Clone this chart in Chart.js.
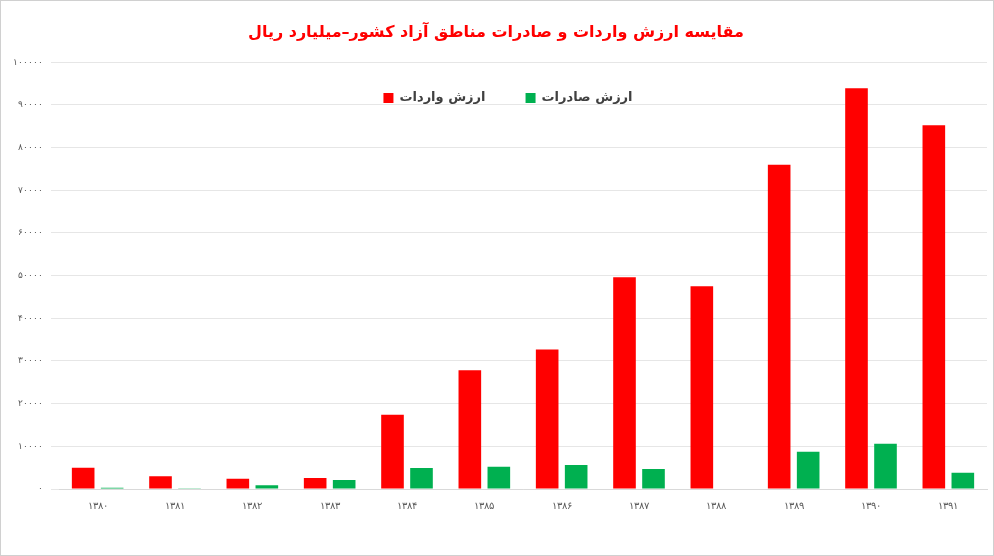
<!DOCTYPE html>
<html><head><meta charset="utf-8">
<script src="https://cdn.jsdelivr.net/npm/chart.js@4"></script>
<style>html,body{margin:0;padding:0;background:#fff}#w{position:absolute;left:0;top:0;width:992px;height:554px;border:1px solid #d0d0d0}</style>
</head><body><div id="w"><canvas id="c"></canvas></div>
<script>
const categories=['۱۳۸۰','۱۳۸۱','۱۳۸۲','۱۳۸۳','۱۳۸۴','۱۳۸۵','۱۳۸۶','۱۳۸۷','۱۳۸۸','۱۳۸۹','۱۳۹۰','۱۳۹۱'];
const imports=[5000,3000,2400,2600,17400,27800,32700,49600,47500,76000,93900,85200];
const exports=[300,200,900,2100,4900,5200,5600,4700,0,8700,10600,3800];
const yTickLabels=['۰','۱۰۰۰۰','۲۰۰۰۰','۳۰۰۰۰','۴۰۰۰۰','۵۰۰۰۰','۶۰۰۰۰','۷۰۰۰۰','۸۰۰۰۰','۹۰۰۰۰','۱۰۰۰۰۰'];
const seriesNames=['ارزش واردات','ارزش صادرات'];
const titleText='مقایسه ارزش واردات و صادرات مناطق آزاد کشور–میلیارد ریال';
const legendPlugin={id:'inlegend',afterDraw(chart){
  const ctx=chart.ctx;ctx.save();
  ctx.font='bold 13px "DejaVu Sans"';ctx.textBaseline='middle';ctx.textAlign='left';
  const items=chart.data.datasets.map(d=>({t:d.label,c:d.backgroundColor,w:ctx.measureText(d.label).width}));
  const gap=40,box=10,sp=6;
  const total=items.reduce((s,i)=>s+box+sp+i.w,0)+gap*(items.length-1);
  let x=(chart.chartArea.left+chart.chartArea.right)/2-total/2-15;const y=97;
  items.forEach(i=>{ctx.fillStyle=i.c;ctx.fillRect(x,y-5,box,box);x+=box+sp;ctx.fillStyle='#404040';ctx.fillText(i.t,x,y);x+=i.w+gap;});
  ctx.restore();}};
new Chart(document.getElementById('c'),{type:'bar',
data:{labels:categories,datasets:[
{label:seriesNames[0],data:imports,backgroundColor:'#ff0000',barPercentage:0.78,categoryPercentage:0.75},
{label:seriesNames[1],data:exports,backgroundColor:'#00b050',barPercentage:0.78,categoryPercentage:0.75}]},
plugins:[legendPlugin],
options:{responsive:true,maintainAspectRatio:false,animation:false,
layout:{padding:{left:4,right:6,top:0,bottom:40}},
plugins:{tooltip:{enabled:false},legend:{display:false},
title:{display:true,text:titleText,color:'#ff0000',font:{family:'DejaVu Sans',size:16,weight:'bold'},padding:{top:22,bottom:20}}},
scales:{
x:{grid:{display:false},border:{color:'#d9d9d9'},ticks:{color:'#595959',font:{size:10}}},
y:{min:0,max:100000,grid:{color:'#e6e6e6'},border:{display:false},
ticks:{stepSize:10000,color:'#595959',font:{size:9},padding:8,callback:(v,i)=>yTickLabels[i]}}}}});
</script></body></html>
